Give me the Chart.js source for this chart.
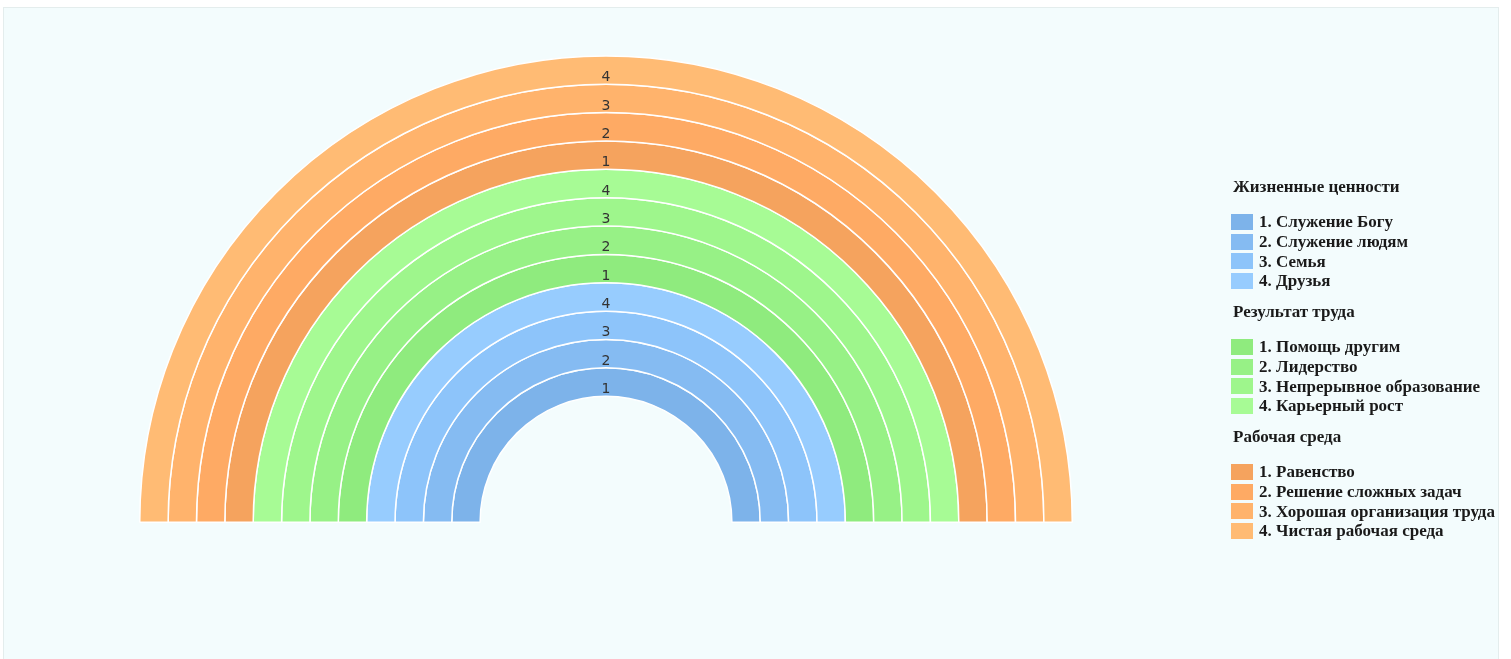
<!DOCTYPE html>
<html lang="ru">
<head>
<meta charset="utf-8">
<title>Ценности</title>
<script src="https://cdn.jsdelivr.net/npm/chart.js@4.4.1/dist/chart.umd.min.js"></script>
<style>
  html, body { margin: 0; padding: 0; width: 1511px; height: 659px; overflow: hidden; background: #ffffff; }
  #panel {
    position: absolute; left: 3px; top: 7px; width: 1496px; height: 670px;
    background: #F3FCFD; border: 1px solid #E4EDED; box-sizing: border-box;
  }
  #chart { position: absolute; left: 0; top: 0; }
  #legend {
    position: absolute; left: 1231px; top: 177px;
    font-family: "Liberation Serif", "Times New Roman", serif; font-weight: bold; font-size: 17px; color: #1a1a1a;
  }
  .group { height: 125px; }
  .group-title { height: 20px; line-height: 20px; margin-left: 2px; margin-bottom: 15.2px; white-space: nowrap; }
  .item { height: 19.67px; line-height: 19.67px; display: flex; align-items: center; white-space: nowrap; }
  .swatch { width: 22px; height: 16px; margin-right: 6px; flex: none; }
</style>
</head>
<body>
<div id="panel"></div>
<canvas id="chart" width="1511" height="659"></canvas>
<div id="legend"></div>
<script>
// Group titles and the four items of each group (inner ring = item 1)
const groupTitles = ['Жизненные ценности', 'Результат труда', 'Рабочая среда'];
const lifeValues = ['Служение Богу', 'Служение людям', 'Семья', 'Друзья'];
const workResults = ['Помощь другим', 'Лидерство', 'Непрерывное образование', 'Карьерный рост'];
const workEnvironment = ['Равенство', 'Решение сложных задач', 'Хорошая организация труда', 'Чистая рабочая среда'];

// Ring shades per group, item 1 … item 4
const blueShades = ['#7DB3EA', '#85BBF2', '#8DC4FA', '#97CCFE'];
const greenShades = ['#8FEB7E', '#97F186', '#9EF68C', '#A7FB95'];
const orangeShades = ['#F5A35E', '#FEAA64', '#FFB36C', '#FFBB74'];

// Every ring spans the full half circle
const ringShare = [1];

const groups = [
  { title: groupTitles[0], items: lifeValues, colors: blueShades },
  { title: groupTitles[1], items: workResults, colors: greenShades },
  { title: groupTitles[2], items: workEnvironment, colors: orangeShades }
];

// Doughnut datasets go from outermost to innermost ring
const datasets = [];
for (let g = groups.length - 1; g >= 0; g--) {
  for (let i = groups[g].items.length - 1; i >= 0; i--) {
    datasets.push({
      label: (i + 1) + '. ' + groups[g].items[i],
      ringNumber: String(i + 1),
      data: ringShare,
      backgroundColor: groups[g].colors[i],
      hoverBackgroundColor: groups[g].colors[i],
      borderColor: '#ffffff',
      borderWidth: 1.5
    });
  }
}

// Writes the item number at the top of each ring
const ringNumbers = {
  id: 'ringNumbers',
  afterDatasetsDraw(chart) {
    const ctx = chart.ctx;
    ctx.save();
    ctx.font = '14px "DejaVu Sans", sans-serif';
    ctx.fillStyle = '#333333';
    ctx.textAlign = 'center';
    ctx.textBaseline = 'middle';
    chart.data.datasets.forEach((ds, di) => {
      const arc = chart.getDatasetMeta(di).data[0];
      const mid = (arc.innerRadius + arc.outerRadius) / 2;
      ctx.fillText(ds.ringNumber, arc.x, arc.y - mid + 7.5);
    });
    ctx.restore();
  }
};

new Chart(document.getElementById('chart'), {
  type: 'doughnut',
  data: { labels: [''], datasets },
  options: {
    responsive: false,
    animation: false,
    rotation: -90,
    circumference: 180,
    cutout: '27%',
    layout: { padding: { left: 139, top: 55, right: 438, bottom: 136 } },
    plugins: { legend: { display: false }, tooltip: { enabled: false } }
  },
  plugins: [ringNumbers]
});

// Grouped legend on the right
const legend = document.getElementById('legend');
groups.forEach(grp => {
  const block = document.createElement('div');
  block.className = 'group';
  const t = document.createElement('div');
  t.className = 'group-title';
  t.textContent = grp.title;
  block.appendChild(t);
  grp.items.forEach((name, i) => {
    const row = document.createElement('div');
    row.className = 'item';
    const sw = document.createElement('span');
    sw.className = 'swatch';
    sw.style.background = grp.colors[i];
    const tx = document.createElement('span');
    tx.textContent = (i + 1) + '. ' + name;
    row.appendChild(sw);
    row.appendChild(tx);
    block.appendChild(row);
  });
  legend.appendChild(block);
});
</script>
</body>
</html>
